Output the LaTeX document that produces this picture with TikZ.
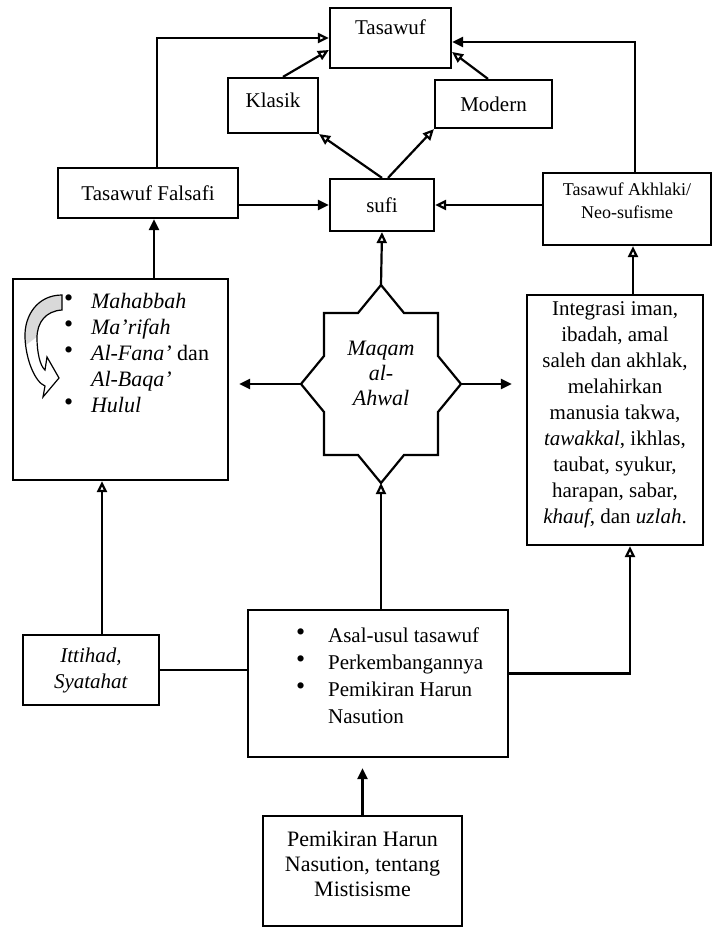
\documentclass[tikz,border=0pt]{standalone}
\usepackage{fontspec}
\setmainfont{Liberation Serif}
\usetikzlibrary{arrows.meta, positioning}

\newcommand{\bendpath}{(62,295) .. controls (38,295) and (24,315) .. (25,338)
  .. controls (26,360) and (35,382) .. (45,386) -- (43,397) -- (59,378) -- (47,357)
  -- (45,370) .. controls (40,366) and (37,352) .. (37,338)
  .. controls (37,322) and (46,311) .. (62,310) -- cycle}
\newcommand{\bigdot}{\raisebox{0.2ex}{\fontsize{13}{13}\selectfont\textbullet}}

\begin{document}
\begin{tikzpicture} [x = 0.5pt, y = -0.5pt, line width = 1.1pt,
every node/.style = {font=\fontsize{10.5}{13}\selectfont},
box/.style = {draw, rectangle, inner sep=2pt, align=center},
open tip/.style = {-{Triangle[open, length=5.5pt, width=5pt]}},
full tip/.style = {-{Triangle[length=5.5pt, width=5pt]}}]

\useasboundingbox (0,0) rectangle (713,930);

% top row
\node (tas) [box, minimum width=60.5pt, minimum height=30pt,
  label={[anchor=north, inner sep=6pt]north:Tasawuf}] at (390.5,38) {};
\node (kls) [box, minimum width=45pt, minimum height=27.5pt, text depth=5pt] at (273,105.5) {Klasik};
\node (mod) [box, minimum width=58.5pt, minimum height=24pt] at (493.5,104) {Modern};

% second row
\node (fal) [box, minimum width=90pt, minimum height=25pt] at (148,193) {Tasawuf Falsafi};
\node (sufi) [box, minimum width=52pt, minimum height=26pt] at (382,205) {sufi};
\node (akh) [box, minimum width=84pt, minimum height=36pt, text depth=8pt,
  font=\fontsize{9}{11.5}\selectfont] at (627,209) {Tasawuf Akhlaki/\\Neo-sufisme};

% left box
\node (lbox) [box, minimum width=107.5pt, minimum height=100.5pt] at (120.5,379.5) {};
\node (lhs) [anchor=north west, inner sep=0pt, align=left,
  font=\fontsize{11}{13}\selectfont] at (63,292)
  {\makebox[13.5pt][l]{\bigdot}\textit{Mahabbah}\\
   \makebox[13.5pt][l]{\bigdot}\textit{Ma'rifah}\\
   \makebox[13.5pt][l]{\bigdot}\textit{Al-Fana'} dan\\
   \hspace*{13.5pt}\textit{Al-Baqa'}\\
   \makebox[13.5pt][l]{\bigdot}\textit{Hulul}};
\begin{scope}
  \clip (0,280) -- (70,280) -- (70,312) -- (22,348) -- (0,348) -- cycle;
  \fill [gray!30] \bendpath;
\end{scope}
\draw [line width=0.6pt] \bendpath;

% star
\draw (381,285) -- (404,313) -- (438,313) -- (438,356) -- (461,384) -- (438,412)
  -- (438,455) -- (404,455) -- (381,483) -- (358,455) -- (324,455) -- (324,412)
  -- (301,384) -- (324,356) -- (324,313) -- (358,313) -- cycle;
\coordinate (mqn) at (381,285);
\coordinate (mqs) at (381,483);
\coordinate (mqw) at (301,384);
\coordinate (mqe) at (461,384);
\node (maq) [align=center, font=\fontsize{11}{12.5}\selectfont\itshape] at (381,373)
  {Maqam\\al-\\Ahwal};

% right box
\node (rbox) [box, minimum width=88pt, minimum height=125pt, text depth=7pt] at (615,420)
  {Integrasi iman,\\ibadah, amal\\saleh dan akhlak,\\melahirkan\\manusia takwa,\\
   \textit{tawakkal}, ikhlas,\\taubat, syukur,\\harapan, sabar,\\
   \textit{khauf}, dan \textit{uzlah}.};

% lower row
\node (itt) [box, minimum width=68pt, minimum height=35pt] at (91,670)
  {\textit{Ittihad,}\\\textit{Syatahat}};
\node (mid) [box, minimum width=130pt, minimum height=73.5pt] at (378,683.5) {};
\node (midtxt) [anchor=north west, inner sep=0pt, align=left,
  font=\fontsize{10.5}{13.5}\selectfont] at (295,627)
  {\makebox[16pt][l]{\bigdot}Asal-usul tasawuf\\
   \makebox[16pt][l]{\bigdot}Perkembangannya\\
   \makebox[16pt][l]{\bigdot}Pemikiran Harun\\
   \hspace*{16pt}Nasution};
\node (bot) [box, minimum width=99.5pt, minimum height=55pt, text depth=7pt,
  font=\fontsize{11}{12.5}\selectfont] at (362.5,871)
  {Pemikiran Harun\\Nasution, tentang\\Mistisisme};

% connectors
\draw [open tip] ([xshift=4.5pt]fal.north) |- (tas.west);
\draw [full tip] ([xshift=4pt]akh.north) |- ([yshift=-2pt]tas.east);
\draw [open tip] ([xshift=5pt]kls.north) -- ([yshift=-6pt]tas.west);
\draw [open tip] ([xshift=-2.75pt]mod.north) -- ([yshift=-7pt]tas.east);
\draw [open tip] (sufi.north) -- (kls.south east);
\draw [open tip] ([xshift=3pt]sufi.north) -- (mod.south west);
\draw [full tip] (sufi.west -| fal.east) -- (sufi.west);
\draw [open tip] (sufi.east -| akh.west) -- (sufi.east);
\draw [full tip] ([xshift=3pt]fal.south |- lbox.north) -- ([xshift=3pt]fal.south);
\draw [open tip] ([xshift=3pt]akh.south |- rbox.north) -- ([xshift=3pt]akh.south);
\draw [open tip] (mqn) -- (sufi.south);
\draw [full tip, shorten >=5pt] (mqw) -- (mqw -| lbox.east);
\draw [full tip, shorten >=7pt] (mqe) -- (mqe -| rbox.west);
\draw [open tip] ([xshift=5.5pt]itt.north) -- ([xshift=5.5pt]itt.north |- lbox.south);
\draw (itt.east) -- (itt.east -| mid.west);
\draw [open tip] (mid.north -| mqs) -- (mqs);
\draw [open tip] ([yshift=5pt]mid.east) -| ([xshift=7.5pt]rbox.south);
\draw [full tip, shorten >=5pt] (bot.north) -- (bot.north |- mid.south);
\end{tikzpicture}
\end{document}
